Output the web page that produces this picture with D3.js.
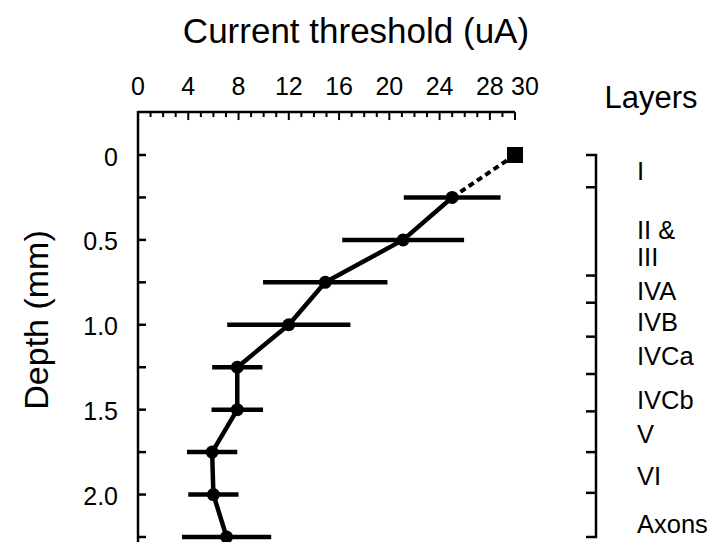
<!DOCTYPE html>
<html lang="en">
  <head>
    <meta charset="UTF-8" />
    <title>Current threshold vs depth</title>
    <script src="https://d3js.org/d3.v7.min.js"></script>
    <style>
      body {
        margin: 0;
        background: white;
      }
      svg {
        display: block;
        font-family: "Liberation Sans", Arial, sans-serif;
      }
    </style>
  </head>
  <body>
    <script>
      // data
      const depths = [0.25, 0.5, 0.75, 1.0, 1.25, 1.5, 1.75, 2.0, 2.25];
      const thresholds = [25.0, 21.1, 14.9, 12.0, 7.9, 7.9, 5.9, 6.0, 7.05];
      const errors = [3.85, 4.85, 4.95, 4.9, 2.0, 2.05, 2.0, 2.0, 3.55];
      const surfaceDepth = 0;
      const surfaceThreshold = 30;

      const xTicks = [0, 4, 8, 12, 16, 20, 24, 28, 30];
      const yTicks = [0, 0.5, 1.0, 1.5, 2.0];
      const yTickLabels = ["0", "0.5", "1.0", "1.5", "2.0"];

      const layerBounds = [0, 0.19, 0.71, 0.87, 1.07, 1.29, 1.51, 1.75, 1.99, 2.25];
      const layerNames = ["I", "II &", "III", "IVA", "IVB", "IVCa", "IVCb", "V", "VI", "Axons"];
      const layerLabelDepths = [0.095, 0.44, 0.6, 0.8, 0.98, 1.18, 1.44, 1.64, 1.89, 2.17];

      const width = 714,
        height = 542;

      const svg = d3
        .select("body")
        .append("svg")
        .attr("width", width)
        .attr("height", height);

      const x = d3.scaleLinear().domain([0, 30]).range([138, 515]);
      const y = d3.scaleLinear().domain([0, 2.25]).range([155, 537]);

      // top axis, ticks every 1 uA, longer every 4
      const topAxis = svg.append("g").attr("transform", "translate(0," + y(-0.253) + ")");
      topAxis
        .append("line")
        .attr("x1", x(0))
        .attr("x2", x(30))
        .attr("stroke", "#000")
        .attr("stroke-width", 2.5);
      topAxis
        .selectAll("line.minor")
        .data(d3.range(1, 31))
        .enter()
        .append("line")
        .attr("class", "minor")
        .attr("x1", (d) => x(d))
        .attr("x2", (d) => x(d))
        .attr("y1", 0)
        .attr("y2", (d) => (d % 4 === 0 || d === 30 ? 8 : 5))
        .attr("stroke", "#000")
        .attr("stroke-width", 2);
      topAxis
        .selectAll("text")
        .data(xTicks)
        .enter()
        .append("text")
        .attr("x", (d) => x(d) + (d === 30 ? 10 : 0))
        .attr("y", -17)
        .attr("text-anchor", "middle")
        .attr("font-size", 25)
        .text((d) => d);

      // left axis
      const leftAxis = svg.append("g");
      leftAxis
        .append("line")
        .attr("x1", x(0))
        .attr("x2", x(0))
        .attr("y1", y(-0.253) - 1)
        .attr("y2", height + 5)
        .attr("stroke", "#000")
        .attr("stroke-width", 2.5);
      leftAxis
        .selectAll("line.tick")
        .data(d3.range(0, 2.3, 0.25))
        .enter()
        .append("line")
        .attr("class", "tick")
        .attr("x1", x(0))
        .attr("x2", x(0) + 8)
        .attr("y1", (d) => y(d))
        .attr("y2", (d) => y(d))
        .attr("stroke", "#000")
        .attr("stroke-width", 2.5);
      leftAxis
        .selectAll("text")
        .data(yTicks)
        .enter()
        .append("text")
        .attr("x", 118)
        .attr("y", (d) => y(d))
        .attr("dy", "0.42em")
        .attr("text-anchor", "end")
        .attr("font-size", 25)
        .text((d, i) => yTickLabels[i]);

      // titles
      svg
        .append("text")
        .attr("x", 356)
        .attr("y", 43)
        .attr("text-anchor", "middle")
        .attr("font-size", 35)
        .text("Current threshold (uA)");
      svg
        .append("text")
        .attr("transform", "translate(48," + 320 + ") rotate(-90)")
        .attr("text-anchor", "middle")
        .attr("font-size", 34)
        .text("Depth (mm)");
      svg
        .append("text")
        .attr("x", 651)
        .attr("y", 108)
        .attr("text-anchor", "middle")
        .attr("font-size", 31)
        .text("Layers");

      // layers axis
      const layers = svg.append("g");
      layers
        .append("line")
        .attr("x1", 596)
        .attr("x2", 596)
        .attr("y1", y(layerBounds[0]) - 1)
        .attr("y2", y(layerBounds[layerBounds.length - 1]) + 1)
        .attr("stroke", "#000")
        .attr("stroke-width", 2.5);
      layers
        .selectAll("line.tick")
        .data(layerBounds)
        .enter()
        .append("line")
        .attr("class", "tick")
        .attr("x1", 586)
        .attr("x2", 597)
        .attr("y1", (d) => y(d))
        .attr("y2", (d) => y(d))
        .attr("stroke", "#000")
        .attr("stroke-width", 2.5);
      layers
        .selectAll("text")
        .data(layerNames)
        .enter()
        .append("text")
        .attr("x", 637)
        .attr("y", (d, i) => y(layerLabelDepths[i]))
        .attr("dy", "0.36em")
        .attr("font-size", 25.5)
        .text((d) => d);

      // error bars
      svg
        .selectAll("line.err")
        .data(depths)
        .enter()
        .append("line")
        .attr("class", "err")
        .attr("x1", (d, i) => x(thresholds[i] - errors[i]))
        .attr("x2", (d, i) => x(thresholds[i] + errors[i]))
        .attr("y1", (d) => y(d))
        .attr("y2", (d) => y(d))
        .attr("stroke", "#000")
        .attr("stroke-width", 4.5);

      // dashed extrapolation to surface
      svg
        .append("line")
        .attr("x1", x(thresholds[0]))
        .attr("y1", y(depths[0]))
        .attr("x2", x(surfaceThreshold))
        .attr("y2", y(surfaceDepth))
        .attr("stroke", "#000")
        .attr("stroke-width", 4)
        .attr("stroke-dasharray", "6,4");

      const line = d3
        .line()
        .x((d, i) => x(thresholds[i]))
        .y((d) => y(d));
      svg
        .append("path")
        .attr("d", line(depths))
        .attr("fill", "none")
        .attr("stroke", "#000")
        .attr("stroke-width", 4.5)
        .attr("stroke-linejoin", "round");

      svg
        .selectAll("circle")
        .data(depths)
        .enter()
        .append("circle")
        .attr("cx", (d, i) => x(thresholds[i]))
        .attr("cy", (d) => y(d))
        .attr("r", 6.5)
        .attr("fill", "#000");

      svg
        .append("rect")
        .attr("x", x(surfaceThreshold) - 8)
        .attr("y", y(surfaceDepth) - 8)
        .attr("width", 16)
        .attr("height", 16)
        .attr("fill", "#000");
    </script>
  </body>
</html>
